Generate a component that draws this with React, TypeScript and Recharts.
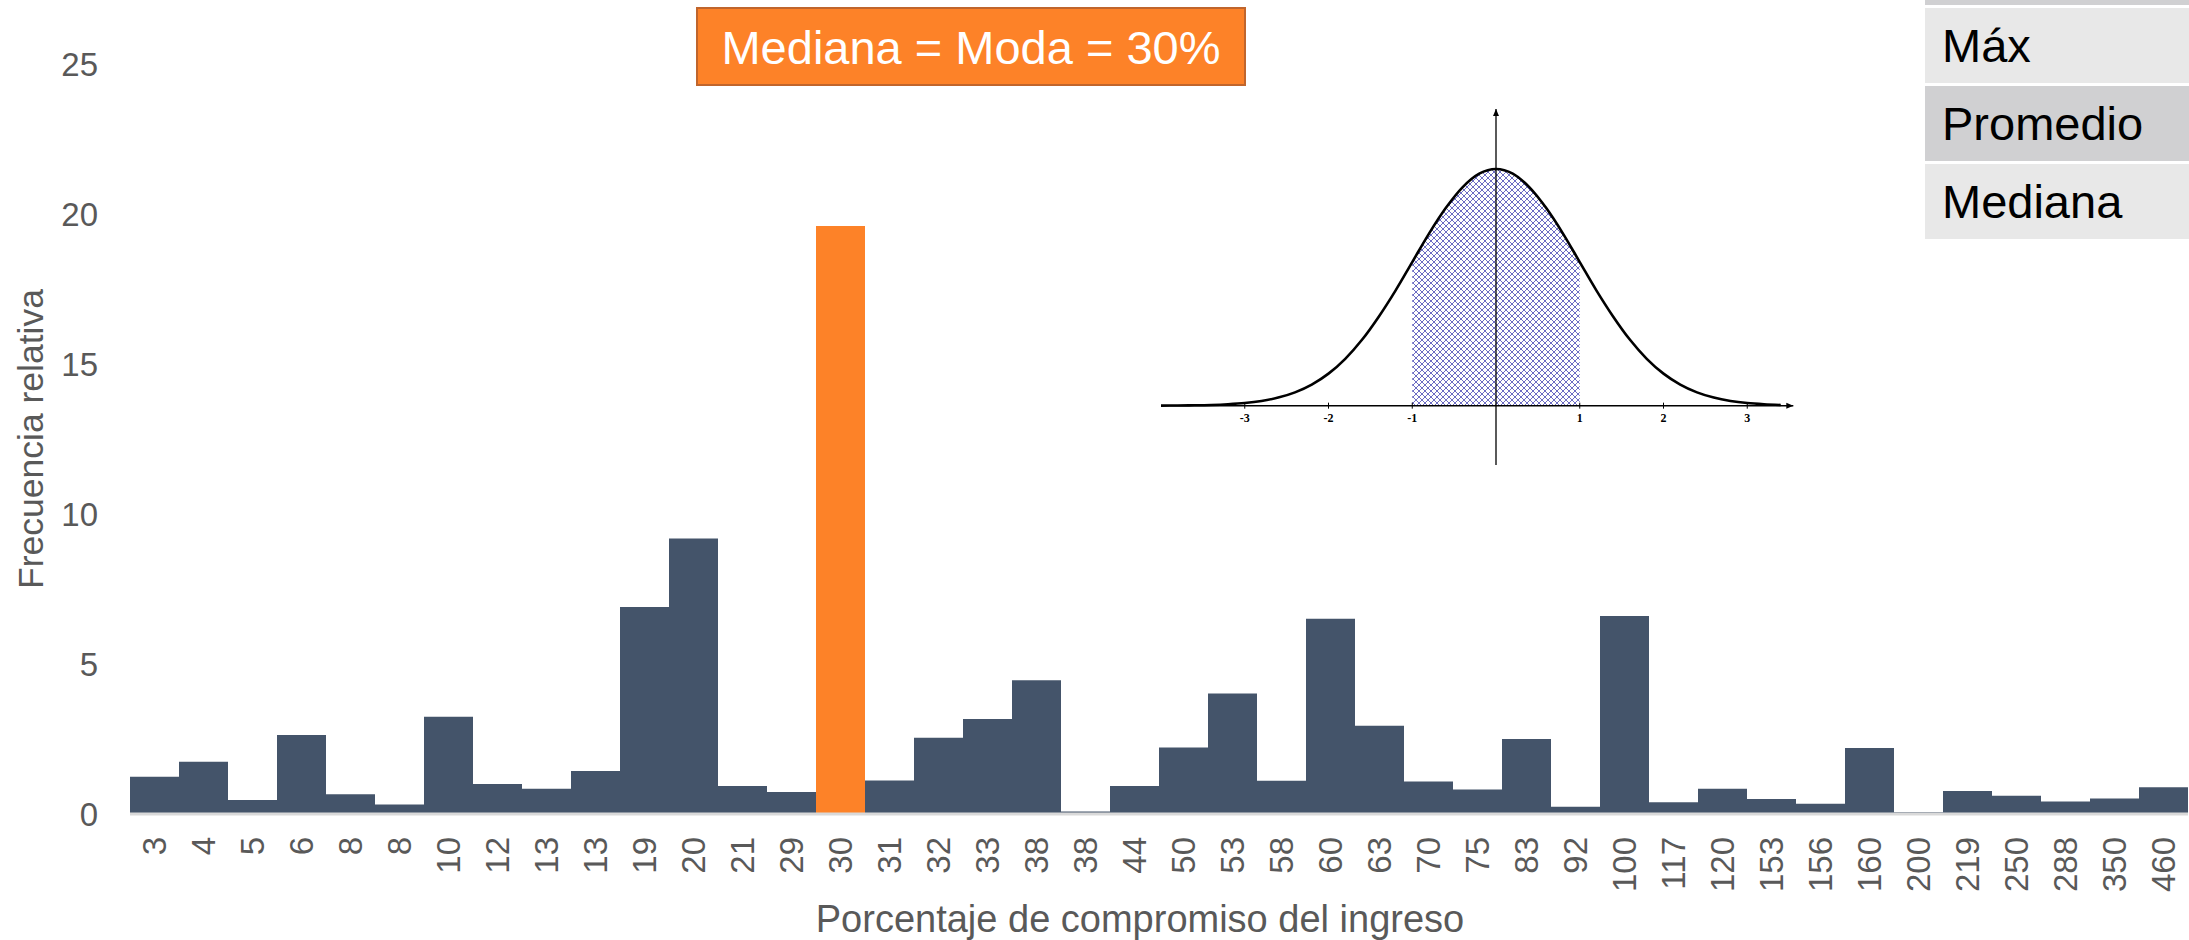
import {
  BarChart,
  Bar,
  XAxis,
  YAxis,
  Cell,
  Label,
  ComposedChart,
  Line,
  Area,
  Scatter,
  ReferenceLine,
} from "recharts";

const FONT = "'Liberation Sans', Arial, sans-serif";
const GRAY_TEXT = "#595959";
const BAR_COLOR = "#44546a";
const ORANGE = "#fd8228";

// porcentaje de compromiso del ingreso (categorías del eje X)
const categorias = [
  "3", "4", "5", "6", "8", "8", "10", "12", "13", "13", "19", "20", "21", "29",
  "30", "31", "32", "33", "38", "38", "44", "50", "53", "58", "60", "63", "70",
  "75", "83", "92", "100", "117", "120", "153", "156", "160", "200", "219",
  "250", "288", "350", "460",
];

// frecuencia relativa (%)
const frecuencia = [
  1.24, 1.74, 0.47, 2.63, 0.66, 0.32, 3.24, 1.0, 0.84, 1.43, 6.9, 9.18, 0.93,
  0.73, 19.6, 1.12, 2.54, 3.17, 4.46, 0.08, 0.93, 2.22, 4.02, 1.11, 6.51, 2.94,
  1.08, 0.82, 2.5, 0.24, 6.6, 0.39, 0.84, 0.5, 0.34, 2.2, 0.06, 0.77, 0.61,
  0.42, 0.52, 0.89,
];

const yTicks = [0, 5, 10, 15, 20, 25];
const modaLabel = "30";

// curva normal del recuadro
const bellZ = [
  -4.0, -3.8, -3.6, -3.4, -3.2, -3.0, -2.8, -2.6, -2.4, -2.2, -2.0, -1.8, -1.6,
  -1.4, -1.2, -1.0, -0.8, -0.6, -0.4, -0.2, 0, 0.2, 0.4, 0.6, 0.8, 1.0, 1.2,
  1.4, 1.6, 1.8, 2.0, 2.2, 2.4, 2.6, 2.8, 3.0, 3.2, 3.4,
];
const bellPdf = [
  0.0001, 0.0003, 0.0006, 0.0012, 0.0024, 0.0044, 0.0079, 0.0136, 0.0224,
  0.0355, 0.054, 0.079, 0.111, 0.15, 0.194, 0.242, 0.29, 0.333, 0.368, 0.391,
  0.399, 0.391, 0.368, 0.333, 0.29, 0.242, 0.194, 0.15, 0.111, 0.079, 0.054,
  0.0355, 0.0224, 0.0136, 0.0079, 0.0044, 0.0024, 0.0012,
];
const bellTicks = [-3, -2, -1, 1, 2, 3];
const bellAxisX = [-4, 3.55];
const bellAxisYTop = 0.5;

// tabla de estadísticos (arriba a la derecha)
const statRows = ["", "Máx", "Promedio", "Mediana"];

const barData = categorias.map((label, i) => ({ label, value: frecuencia[i] }));

const bellData = bellZ.map((z, i) => ({
  z,
  pdf: bellPdf[i],
  shade: z >= -1 && z <= 1 ? bellPdf[i] : null,
}));

const tickData = bellTicks.map((t) => ({ z: t, v: 0, label: String(t) }));
const arrowData = [
  { z: bellAxisX[1], v: 0, dir: "right" },
  { z: 0, v: bellAxisYTop, dir: "up" },
];

function RotTick(props: any) {
  const { x, y, payload } = props;
  return (
    <text
      x={x}
      y={y}
      transform={`rotate(-90 ${x} ${y})`}
      textAnchor="end"
      dy="0.35em"
      fill={GRAY_TEXT}
      fontSize={33}
      fontFamily={FONT}
    >
      {payload.value}
    </text>
  );
}

function XTitle(props: any) {
  const vb = props.viewBox;
  return (
    <text
      x={vb.x + vb.width / 2 - 19}
      y={vb.y + vb.height - 8}
      textAnchor="middle"
      fill={GRAY_TEXT}
      fontSize={38}
      fontFamily={FONT}
    >
      Porcentaje de compromiso del ingreso
    </text>
  );
}

function YTitle(props: any) {
  const vb = props.viewBox;
  const x = vb.x + 43;
  const y = vb.y + vb.height / 2;
  return (
    <text
      x={x}
      y={y}
      transform={`rotate(-90 ${x} ${y})`}
      textAnchor="middle"
      fill={GRAY_TEXT}
      fontSize={35.5}
      fontFamily={FONT}
    >
      Frecuencia relativa
    </text>
  );
}

function BellTick(props: any) {
  const { cx, cy, payload } = props;
  return (
    <g>
      <line x1={cx} x2={cx} y1={cy - 3} y2={cy + 3} stroke="#000" strokeWidth={1} />
      <text
        x={cx}
        y={cy + 16}
        textAnchor="middle"
        fontSize={12}
        fontWeight="bold"
        fontFamily="'Liberation Serif', 'Times New Roman', serif"
        fill="#000"
      >
        {payload.label}
      </text>
    </g>
  );
}

function Arrow(props: any) {
  const { cx, cy, payload } = props;
  const pts =
    payload.dir === "right"
      ? `${cx},${cy} ${cx - 7},${cy - 3} ${cx - 7},${cy + 3}`
      : `${cx},${cy} ${cx - 3},${cy + 7} ${cx + 3},${cy + 7}`;
  return <polygon points={pts} fill="#000" />;
}

export default function App() {
  return (
    <div
      style={{
        position: "absolute",
        left: 0,
        top: 0,
        width: 2189,
        height: 940,
        background: "#fff",
        overflow: "hidden",
        fontFamily: FONT,
      }}
    >
      <BarChart
        width={2189}
        height={940}
        data={barData}
        margin={{ top: 64, right: 1, bottom: 0, left: 0 }}
        barCategoryGap={0}
      >
        <XAxis
          dataKey="label"
          interval={0}
          height={126}
          tickSize={0}
          tickMargin={23}
          tickLine={false}
          axisLine={{ stroke: "#d9d9d9", strokeWidth: 3 }}
          tick={(p: any) => <RotTick {...p} />}
        >
          <Label content={(p: any) => <XTitle {...p} />} />
        </XAxis>
        <YAxis
          width={130}
          domain={[0, 25]}
          ticks={yTicks}
          axisLine={false}
          tickLine={false}
          tickSize={0}
          tickMargin={32}
          tick={{ fill: GRAY_TEXT, fontSize: 33, fontFamily: FONT }}
        >
          <Label content={(p: any) => <YTitle {...p} />} />
        </YAxis>
        <Bar dataKey="value" isAnimationActive={false}>
          {barData.map((d, i) => (
            <Cell key={i} fill={d.label === modaLabel ? ORANGE : BAR_COLOR} />
          ))}
        </Bar>
      </BarChart>

      {/* recuadro: curva normal */}
      <div style={{ position: "absolute", left: 1161, top: 109 }}>
        <ComposedChart
          width={670}
          height={356}
          data={bellData}
          margin={{ top: 0, right: 0, bottom: 0, left: 0 }}
        >
          <defs>
            <pattern id="hatch" width="6" height="6" patternUnits="userSpaceOnUse">
              <rect width="6" height="6" fill="#fff" />
              <path d="M0,0 L6,6 M6,0 L0,6" stroke="#4646b4" strokeWidth={0.8} />
            </pattern>
          </defs>
          <XAxis dataKey="z" type="number" domain={[-4, 4]} hide allowDataOverflow />
          <YAxis type="number" domain={[-0.1, 0.5]} hide allowDataOverflow />
          <Area
            dataKey="shade"
            type="monotone"
            fill="url(#hatch)"
            fillOpacity={1}
            stroke="none"
            isAnimationActive={false}
          />
          <ReferenceLine
            segment={[
              { x: bellAxisX[0], y: 0 },
              { x: bellAxisX[1], y: 0 },
            ]}
            stroke="#000"
            strokeWidth={1.5}
          />
          <ReferenceLine x={0} stroke="#000" strokeWidth={1.3} />
          <Line
            dataKey="pdf"
            type="monotone"
            stroke="#000"
            strokeWidth={2.6}
            dot={false}
            isAnimationActive={false}
          />
          <Scatter data={tickData} dataKey="v" shape={(p: any) => <BellTick {...p} />} isAnimationActive={false} />
          <Scatter data={arrowData} dataKey="v" shape={(p: any) => <Arrow {...p} />} isAnimationActive={false} />
        </ComposedChart>
      </div>

      {/* anotación */}
      <div
        style={{
          position: "absolute",
          left: 696,
          top: 7,
          width: 550,
          height: 79,
          boxSizing: "border-box",
          background: ORANGE,
          border: "2px solid #c0652c",
          color: "#fff",
          fontSize: 47,
          lineHeight: "75px",
          textAlign: "center",
          paddingTop: 1,
        }}
      >
        Mediana = Moda = 30%
      </div>

      {/* tabla de estadísticos */}
      {statRows.map((r, i) => (
        <div
          key={i}
          style={{
            position: "absolute",
            left: 1925,
            top: -70 + i * 78,
            width: 264,
            height: 75,
            background: i % 2 === 0 ? "#d0d0d2" : "#e8e8e8",
            color: "#000",
            fontSize: 47,
            lineHeight: "75px",
            paddingLeft: 17,
            boxSizing: "border-box",
          }}
        >
          {r}
        </div>
      ))}
    </div>
  );
}
